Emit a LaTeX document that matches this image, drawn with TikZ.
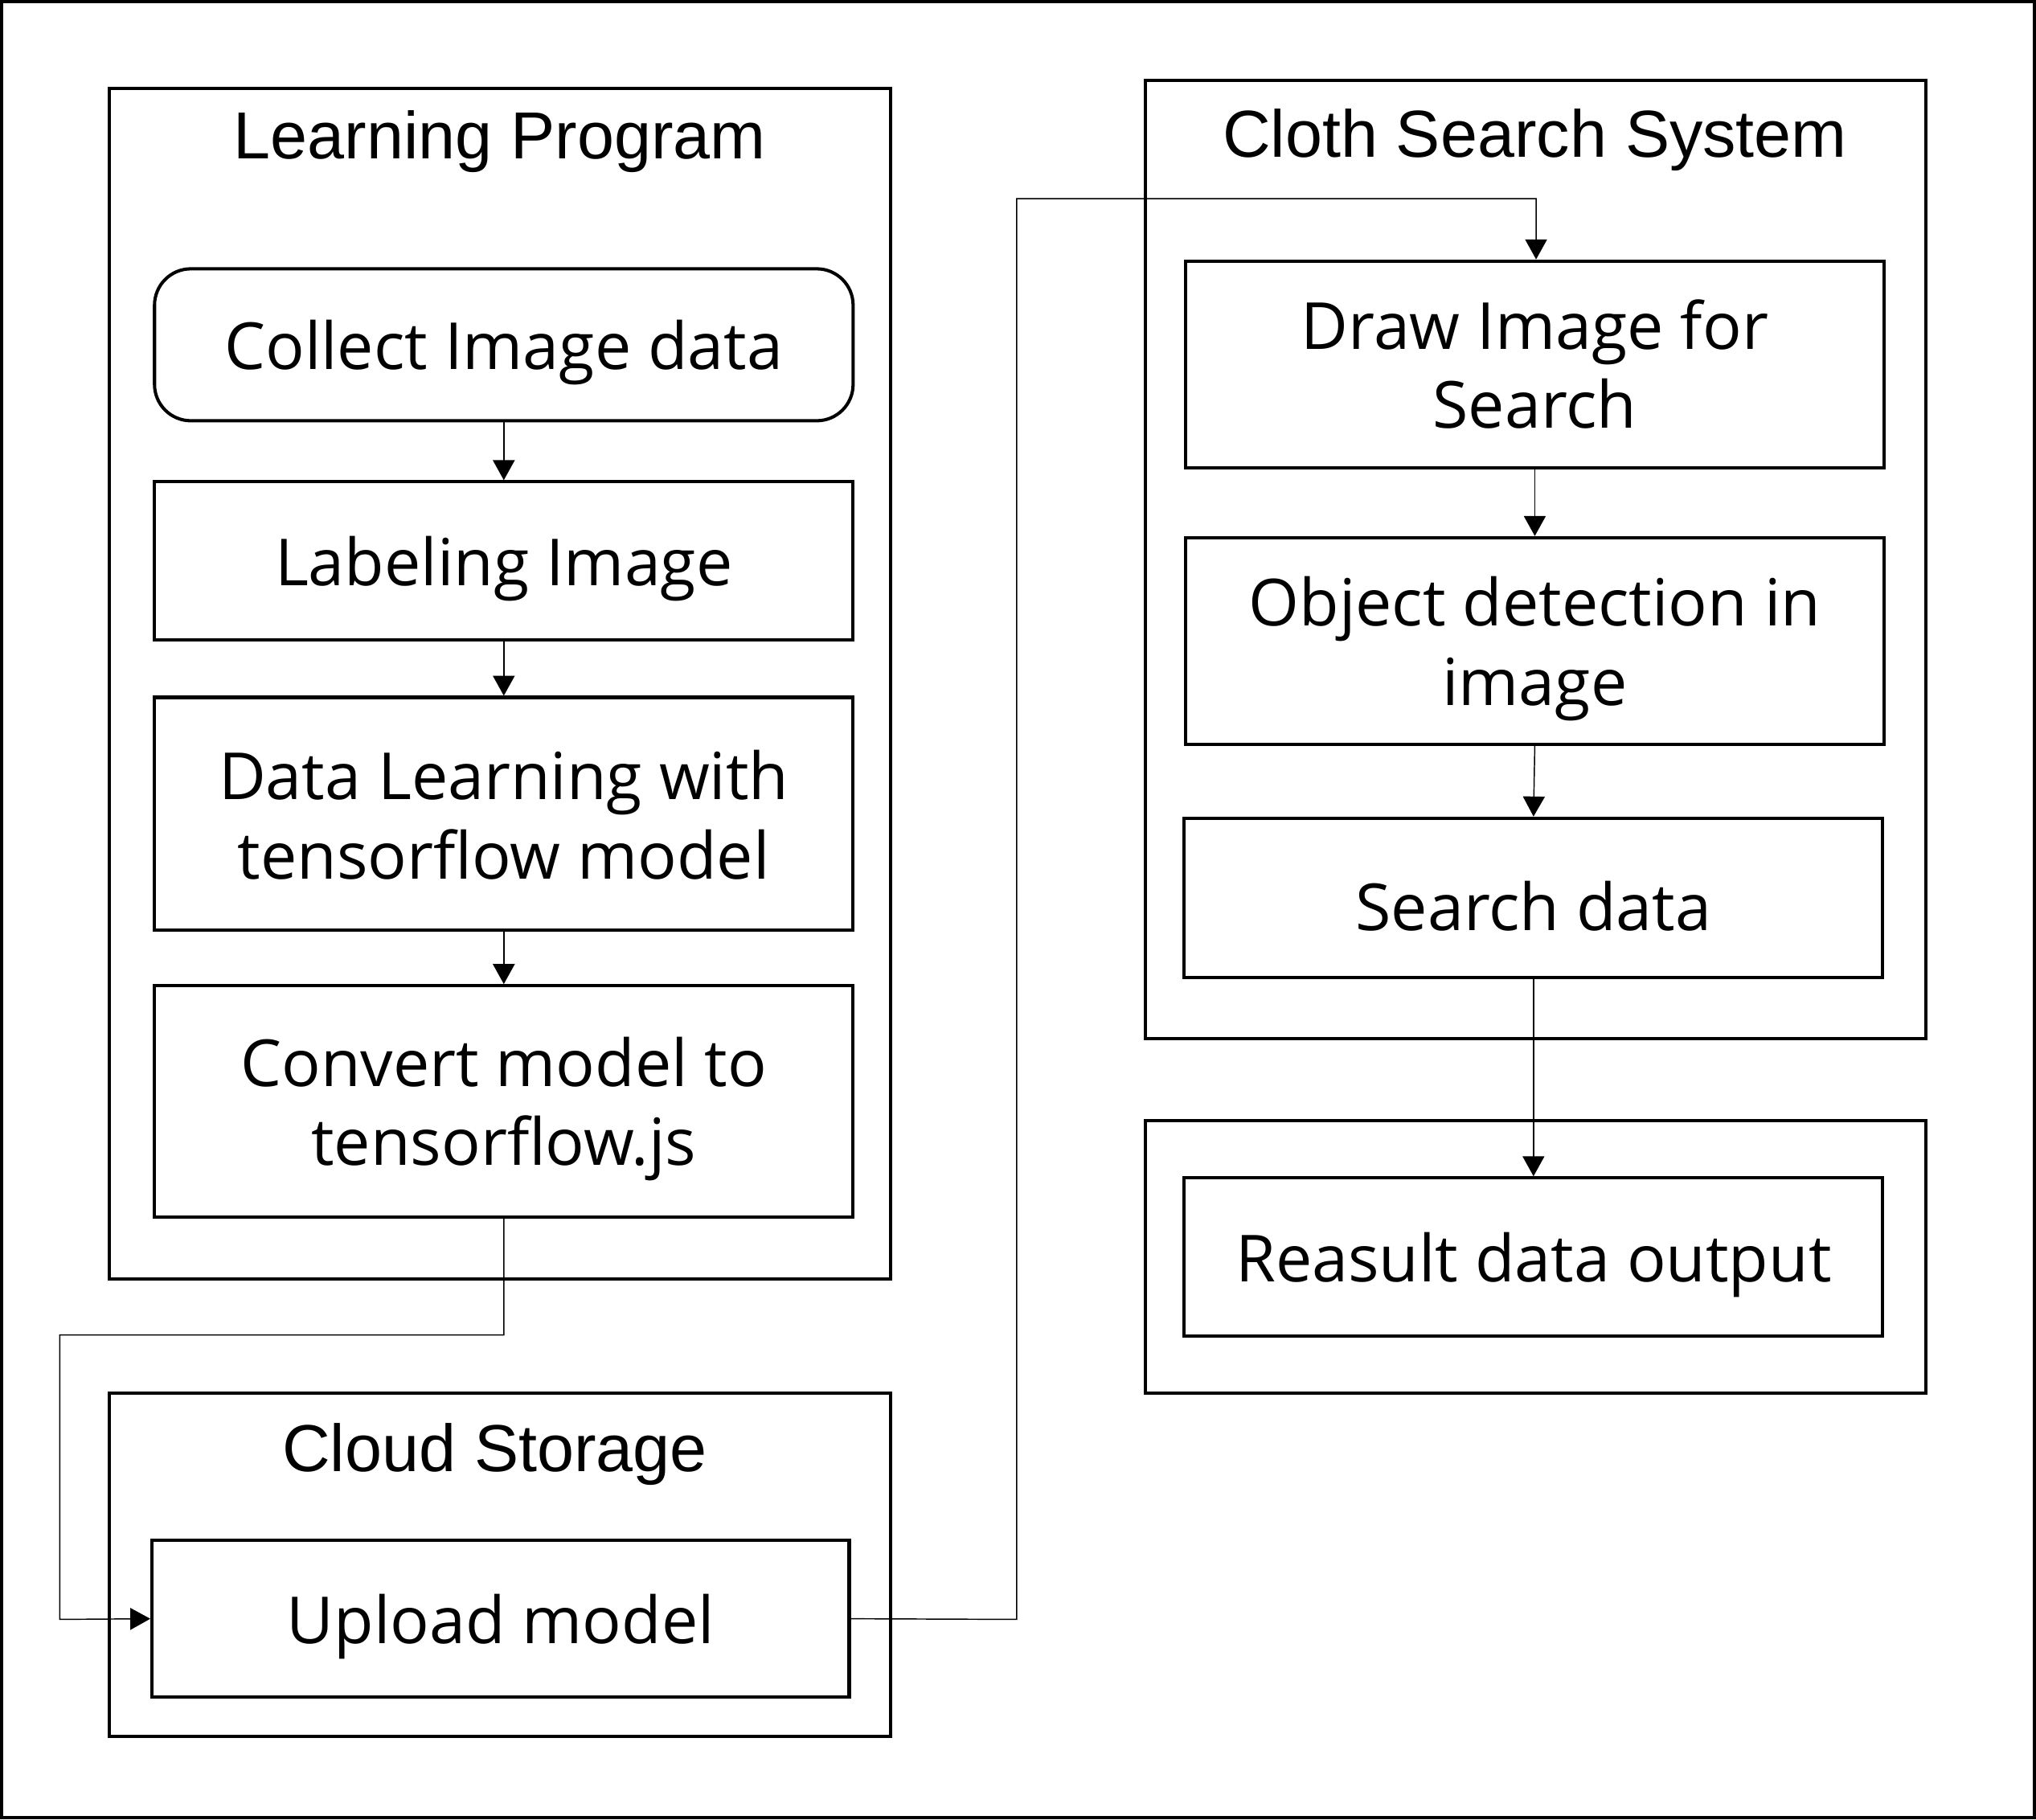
\documentclass[tikz,border=0pt]{standalone}
\usepackage{fontspec}
\setmainfont{Open Sans}
\newfontfamily\titlefont{Liberation Sans}
\usetikzlibrary{arrows.meta,fit}
\begin{document}
\begin{tikzpicture}[x=0.5pt,y=-0.5pt,
  frame/.style={draw,line width=1.25pt,inner sep=0pt},
  box/.style={draw,line width=1.25pt,inner sep=0pt},
  lbl/.style={inner sep=0pt,align=center,yshift=-3pt,font=\fontsize{25}{30.5}\selectfont},
  ttl/.style={font=\titlefont\fontsize{25.6}{30}\selectfont,inner sep=0pt,yshift=-2pt},
  conn/.style={line width=0.45pt},
  arr/.style={conn,-{Triangle[width=8.4pt,length=7.7pt]}}]
\useasboundingbox (0,0) rectangle (1568,1401);
\draw[line width=1.3pt] (1.3,1.3) rectangle (1566.7,1399.7);
% group frames
\node[frame,fit={(84,68)(686,985)}] (lp) {};
\node[frame,fit={(84,1073)(686,1337)}] (cs) {};
\node[frame,fit={(882,62)(1483,800)}] (css) {};
\node[frame,fit={(882,863)(1483,1073)}] (rs) {};
% titles
\node[ttl] (tlp) at (385,105) {Learning Program};
\node[ttl] (tcs) at (381,1116) {Cloud Storage};
\node[ttl] (tcss) at (1182,104) {Cloth Search System};
% steps
\node[box,rounded corners=14pt,fit={(119,207)(657,324)}] (col) {};
\node[lbl] at (col.center) (colt) {Collect Image data};
\node[box,fit={(119,371)(657,493)}] (lab) {};
\node[lbl] at (lab.center) (labt) {Labeling Image};
\node[box,fit={(119,537)(657,716)}] (dl) {};
\node[lbl,yshift=2.5pt] at (dl.center) (dlt) {Data Learning with\\tensorflow model};
\node[box,fit={(119,759)(657,937)}] (conv) {};
\node[lbl] at (conv.center) (convt) {Convert model to\\tensorflow.js};
\node[box,fit={(117,1186)(654,1307)}] (up) {};
\node[lbl] at (up.center) (upt) {Upload model};
\node[box,fit={(913,201)(1451,360)}] (drw) {};
\node[lbl,yshift=3pt] at (drw.center) (drwt) {Draw Image for\\Search};
\node[box,fit={(913,414)(1451,573)}] (obj) {};
\node[lbl] at (obj.center) (objt) {Object detection in\\image};
\node[box,fit={(912,630)(1450,753)}] (srch) {};
\node[lbl] at (srch.center) (srcht) {Search data};
\node[box,fit={(912,907)(1450,1029)}] (res) {};
\node[lbl] at (res.center) (rest) {Reasult data output};
% connectors
\draw[arr] (col.south) -- (lab.north);
\draw[arr] (lab.south) -- (dl.north);
\draw[arr] (dl.south) -- (conv.north);
\coordinate (k1) at (388,1028);
\coordinate (k2) at (46,1028);
\coordinate (k3) at (46,1247);
\draw[arr] (conv.south) -- (k1) -- (k2) -- (k3) -- (up.west);
\coordinate (m1) at (783,1247);
\coordinate (m2) at (783,153);
\coordinate (m3) at (1183,153);
\draw[arr] (up.east) -- (m1) -- (m2) -- (m3) -- (drw.north -| m3);
\draw[arr] (drw.south) -- (obj.north);
\draw[arr] (obj.south) -- (srch.north);
\draw[arr] (srch.south) -- (res.north);
\end{tikzpicture}
\end{document}
